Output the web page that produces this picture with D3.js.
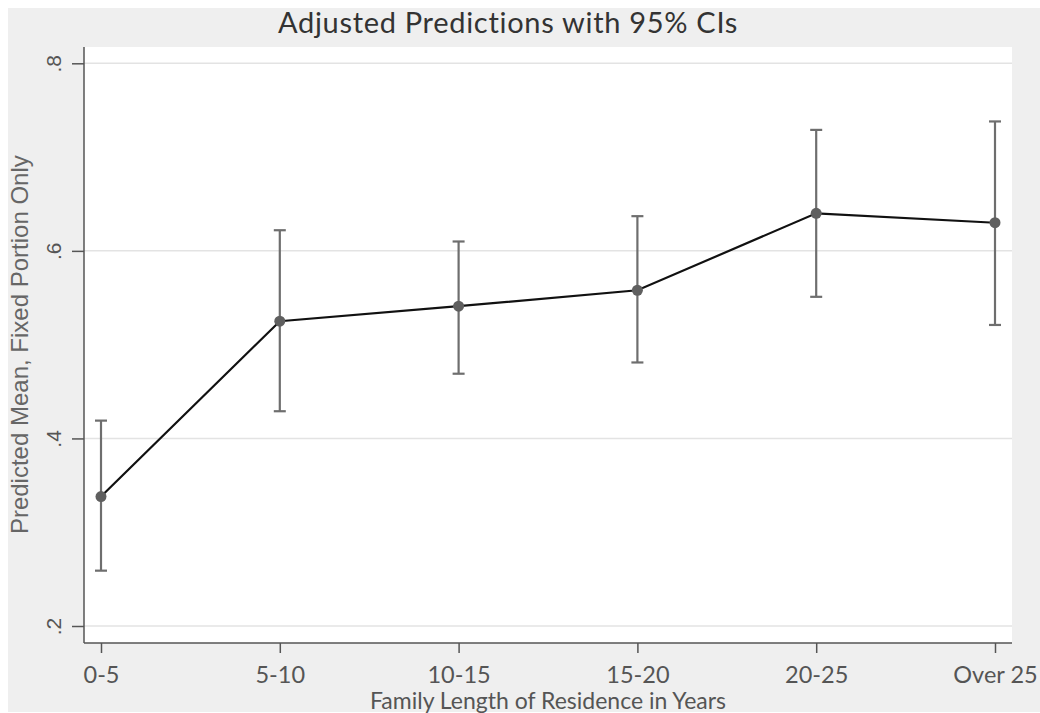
<!DOCTYPE html>
<html>
<head>
<meta charset="utf-8">
<script src="https://cdn.jsdelivr.net/npm/d3@7"></script>
<style>
  body { margin: 0; background: #fff; }
  svg { display: block; }
</style>
</head>
<body>
<div id="chart"></div>
<script>
// data
const categories = ["0-5", "5-10", "10-15", "15-20", "20-25", "Over 25"];
const predicted  = [0.338, 0.525, 0.541, 0.558, 0.640, 0.630];
const ciLower    = [0.259, 0.429, 0.469, 0.481, 0.551, 0.521];
const ciUpper    = [0.419, 0.622, 0.610, 0.637, 0.729, 0.738];
const yTicks     = [0.2, 0.4, 0.6, 0.8];

const titleText = "Adjusted Predictions with 95% CIs";
const xTitle = "Family Length of Residence in Years";
const yTitle = "Predicted Mean, Fixed Portion Only";

const width = 1040, height = 713;
const plot = {left: 84, top: 47, right: 1012, bottom: 643};

const svg = d3.select("#chart").append("svg")
    .attr("width", width)
    .attr("height", height);

// outer grey panel + white plot region
svg.append("rect")
    .attr("x", 8).attr("y", 8)
    .attr("width", width - 8).attr("height", height - 9)
    .attr("fill", "#efefef");
svg.append("rect")
    .attr("x", plot.left).attr("y", plot.top)
    .attr("width", plot.right - plot.left).attr("height", plot.bottom - plot.top)
    .attr("fill", "#fff");

// scales
const xScale = d3.scalePoint()
    .domain(categories)
    .range([101, 995]);

const yScale = d3.scaleLinear()
    .domain([0.2, 0.8])
    .range([626, 63.3]);

// gridlines
svg.append("g")
    .selectAll("line")
    .data(yTicks)
    .join("line")
    .attr("x1", plot.left).attr("x2", plot.right)
    .attr("y1", d => yScale(d)).attr("y2", d => yScale(d))
    .attr("stroke", "#e3e3e3")
    .attr("stroke-width", 1.5);

// y axis
const fmt = d => d3.format(".1f")(d).replace(/^0/, "");
svg.append("g")
    .attr("transform", `translate(${plot.left},0)`)
    .call(d3.axisLeft(yScale).tickValues(yTicks).tickFormat(fmt).tickSize(12).tickSizeOuter(0))
    .call(g => g.select(".domain").attr("d", `M0,${plot.top}V${plot.bottom}`)
        .attr("stroke", "#555").attr("stroke-width", 1.5))
    .call(g => g.selectAll(".tick line").attr("stroke", "#555").attr("stroke-width", 1.5))
    .call(g => g.selectAll(".tick text")
        .attr("x", null).attr("dy", null)
        .attr("transform", "translate(-23,0) rotate(-90)")
        .attr("text-anchor", "middle")
        .attr("font-family", "Liberation Sans, Arial, sans-serif")
        .attr("font-size", 21)
        .attr("fill", "#555"));

// x axis
svg.append("g")
    .attr("transform", `translate(0,${plot.bottom})`)
    .call(d3.axisBottom(xScale).tickSize(10).tickSizeOuter(0))
    .call(g => g.select(".domain").attr("d", `M${plot.left},0H${plot.right}`)
        .attr("stroke", "#555").attr("stroke-width", 1.5))
    .call(g => g.selectAll(".tick line").attr("stroke", "#555").attr("stroke-width", 1.5))
    .call(g => g.selectAll(".tick text")
        .attr("y", 40).attr("dy", null)
        .attr("font-family", "Lato, sans-serif")
        .attr("font-size", 23.5)
        .attr("fill", "#555"));

// error bars
const cap = 6;
const bars = svg.append("g")
    .attr("stroke", "#6e6e6e")
    .attr("stroke-width", 2.2)
    .selectAll("g")
    .data(categories)
    .join("g");
bars.append("line")
    .attr("x1", d => xScale(d)).attr("x2", d => xScale(d))
    .attr("y1", (d, i) => yScale(ciLower[i])).attr("y2", (d, i) => yScale(ciUpper[i]));
bars.append("line")
    .attr("x1", d => xScale(d) - cap).attr("x2", d => xScale(d) + cap)
    .attr("y1", (d, i) => yScale(ciLower[i])).attr("y2", (d, i) => yScale(ciLower[i]));
bars.append("line")
    .attr("x1", d => xScale(d) - cap).attr("x2", d => xScale(d) + cap)
    .attr("y1", (d, i) => yScale(ciUpper[i])).attr("y2", (d, i) => yScale(ciUpper[i]));

// connecting line
const line = d3.line()
    .x((d, i) => xScale(categories[i]))
    .y(d => yScale(d));
svg.append("path")
    .datum(predicted)
    .attr("fill", "none")
    .attr("stroke", "#111")
    .attr("stroke-width", 2.2)
    .attr("d", line);

// points
svg.append("g")
    .selectAll("circle")
    .data(predicted)
    .join("circle")
    .attr("cx", (d, i) => xScale(categories[i]))
    .attr("cy", d => yScale(d))
    .attr("r", 5.5)
    .attr("fill", "#5f5f5f");

// titles
svg.append("text")
    .attr("x", 508).attr("y", 33)
    .attr("text-anchor", "middle")
    .attr("font-family", "Lato, sans-serif")
    .attr("font-size", 29)
    .attr("letter-spacing", 0.7)
    .attr("fill", "#333")
    .text(titleText);

svg.append("text")
    .attr("x", 548).attr("y", 709)
    .attr("text-anchor", "middle")
    .attr("font-family", "Lato, sans-serif")
    .attr("font-size", 23)
    .attr("fill", "#555")
    .text(xTitle);

svg.append("text")
    .attr("transform", `translate(28,${(yScale(0.2) + yScale(0.8)) / 2}) rotate(-90)`)
    .attr("text-anchor", "middle")
    .attr("font-family", "Liberation Sans, Arial, sans-serif")
    .attr("font-size", 24)
    .attr("fill", "#666")
    .text(yTitle);
</script>
</body>
</html>
